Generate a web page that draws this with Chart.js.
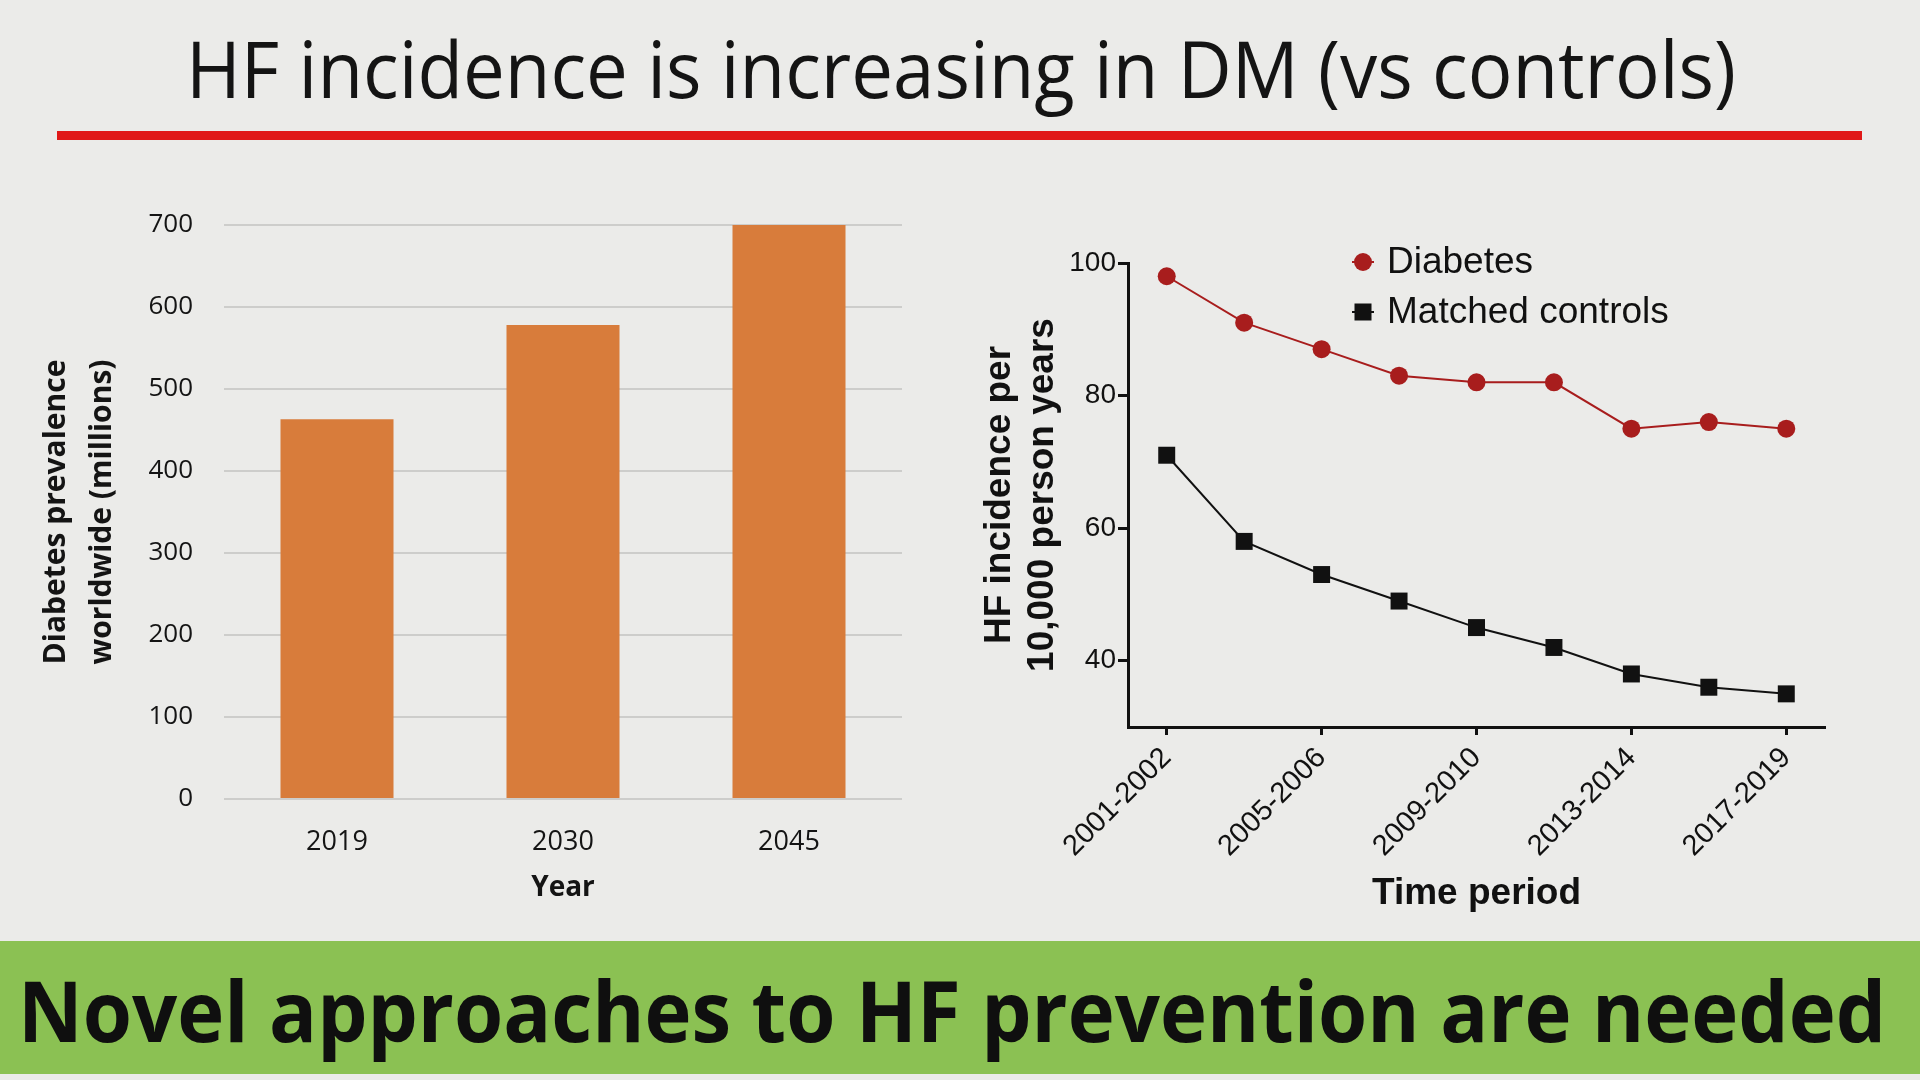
<!DOCTYPE html>
<html>
<head>
<meta charset="utf-8">
<script src="https://cdn.jsdelivr.net/npm/chart.js@4/dist/chart.umd.min.js"></script>
<style>
  html, body { margin: 0; padding: 0; }
  body { width: 1920px; height: 1080px; background: #ebebe9; position: relative; overflow: hidden; }
  .fit { position: absolute; white-space: nowrap; display: inline-block; transform-origin: 0 0; }
  #title { left: 186px; top: 29px; font: 400 78px/78px "Open Sans", sans-serif; color: #141414; }
  #rule { position: absolute; left: 57px; top: 131px; width: 1805px; height: 9px; background: #e01818; }
  #band { position: absolute; left: 0; top: 941px; width: 1920px; height: 133px; background: #8bc153; }
  #footer { left: 18px; top: 968px; font: 700 84px/84px "Open Sans", sans-serif; color: #0f0f0f; }
  .box { position: absolute; }
  #barBox { left: 0; top: 160px; width: 940px; height: 760px; }
  #lineBox { left: 960px; top: 160px; width: 940px; height: 770px; }
</style>
</head>
<body>
<div id="title" class="fit" data-w="1550">HF incidence is increasing in DM (vs controls)</div>
<div id="rule"></div>
<div id="band"></div>
<div id="footer" class="fit" data-w="1868">Novel approaches to HF prevention are needed</div>
<div class="box" id="barBox"><canvas id="bars"></canvas></div>
<div class="box" id="lineBox"><canvas id="lines"></canvas></div>

<script>
// left panel: diabetes prevalence (millions)
const barYears = ['2019', '2030', '2045'];
const prevalence = [463, 578, 700];
const barTicks = [0, 100, 200, 300, 400, 500, 600, 700];

// right panel: HF incidence per 10,000 person years
const periods = ['2001-2002', '2003-2004', '2005-2006', '2007-2008', '2009-2010',
                 '2011-2012', '2013-2014', '2015-2016', '2017-2019'];
const diabetes = [98, 91, 87, 83, 82, 82, 75, 76, 75];
const controls = [71, 58, 53, 49, 45, 42, 38, 36, 35];
const hfTicks = [40, 60, 80, 100];

// squeeze the slide texts to the width they take in the original
document.querySelectorAll('.fit').forEach(el => {
  const w = el.getBoundingClientRect().width;
  el.style.transform = 'scaleX(' + (Number(el.dataset.w) / w) + ')';
});

Chart.defaults.animation = false;
Chart.defaults.devicePixelRatio = 1;

const ink = '#141414';

new Chart(document.getElementById('bars'), {
  type: 'bar',
  data: {
    labels: barYears,
    datasets: [{
      data: prevalence,
      backgroundColor: '#d87c3b',
      categoryPercentage: 1,
      barPercentage: 0.5
    }]
  },
  options: {
    responsive: true,
    maintainAspectRatio: false,
    layout: { padding: { left: 30, top: 65, right: 38, bottom: 15 } },
    plugins: { legend: { display: false }, tooltip: { enabled: false } },
    scales: {
      x: {
        grid: { display: false },
        border: { display: false },
        ticks: { color: ink, padding: 19, font: { family: 'Open Sans', size: 27 } },
        title: {
          display: true, text: 'Year', color: ink,
          padding: { top: 4, bottom: 0 },
          font: { family: 'Open Sans', size: 28, weight: 'bold' }
        },
        afterFit: s => { s.height = 106; }
      },
      y: {
        min: 0, max: 700,
        afterBuildTicks: s => { s.ticks = barTicks.map(v => ({ value: v })); },
        grid: { color: '#cdcdcb', lineWidth: 2, drawTicks: false },
        border: { display: false },
        ticks: { color: ink, padding: 31, font: { family: 'Open Sans', size: 26 } },
        title: {
          display: true, text: ['Diabetes prevalence', 'worldwide (millions)'], color: ink,
          padding: { top: 4, bottom: 0 },
          font: { family: 'Open Sans', size: 30, weight: 'bold', lineHeight: 1.53 }
        },
        afterFit: s => { s.width = 194; }
      }
    }
  }
});

// legend drawn inside the plot, stacked as in the figure
const stackedLegend = {
  id: 'stackedLegend',
  afterDraw(chart) {
    const { ctx, chartArea } = chart;
    const x0 = chartArea.left + 235;
    chart.data.datasets.forEach((ds, i) => {
      const y = chartArea.top - 1 + i * 50;
      ctx.save();
      ctx.strokeStyle = ds.borderColor;
      ctx.lineWidth = 2;
      ctx.beginPath();
      ctx.moveTo(x0 - 11, y);
      ctx.lineTo(x0 + 11, y);
      ctx.stroke();
      ctx.fillStyle = ds.pointBackgroundColor;
      if (ds.pointStyle === 'rect') {
        ctx.fillRect(x0 - 8.5, y - 8.5, 17, 17);
      } else {
        ctx.beginPath();
        ctx.arc(x0, y, ds.pointRadius, 0, Math.PI * 2);
        ctx.fill();
      }
      ctx.fillStyle = '#111';
      ctx.font = '37px "Liberation Sans"';
      ctx.textBaseline = 'middle';
      ctx.fillText(ds.label, x0 + 24, y + 1);
      ctx.restore();
    });
  }
};

new Chart(document.getElementById('lines'), {
  type: 'line',
  data: {
    labels: periods,
    datasets: [{
      label: 'Diabetes',
      data: diabetes,
      borderColor: '#a81d1d',
      backgroundColor: '#a81d1d',
      pointBackgroundColor: '#a81d1d',
      pointBorderWidth: 0,
      borderWidth: 2,
      pointStyle: 'circle',
      pointRadius: 9,
      tension: 0
    }, {
      label: 'Matched controls',
      data: controls,
      borderColor: '#111111',
      backgroundColor: '#111111',
      pointBackgroundColor: '#111111',
      pointBorderWidth: 0,
      borderWidth: 2,
      pointStyle: 'rect',
      pointRadius: 12,
      tension: 0
    }]
  },
  options: {
    responsive: true,
    maintainAspectRatio: false,
    layout: { padding: { left: 14, top: 103, right: 75, bottom: 14 } },
    plugins: { legend: { display: false }, tooltip: { enabled: false } },
    scales: {
      x: {
        offset: true,
        grid: { drawOnChartArea: false, drawTicks: true, tickLength: 8, tickWidth: 3, tickColor: '#111', offset: false },
        border: { color: '#111', width: 3 },
        ticks: {
          autoSkip: false, minRotation: 45, maxRotation: 45, padding: 6, color: '#111',
          font: { family: 'Liberation Sans', size: 29 },
          callback: (v, i) => (i % 2 === 0 ? periods[i] : null)
        },
        title: {
          display: true, text: 'Time period', color: '#111',
          padding: { top: 4, bottom: 0 },
          font: { family: 'Liberation Sans', size: 37, weight: 'bold' }
        },
        afterFit: s => { s.height = 189; }
      },
      y: {
        min: 30, max: 100,
        afterBuildTicks: s => { s.ticks = hfTicks.map(v => ({ value: v })); },
        grid: { drawOnChartArea: false, drawTicks: true, tickLength: 10, tickWidth: 3, tickColor: '#111' },
        border: { color: '#111', width: 3 },
        ticks: { padding: 2, color: '#111', font: { family: 'Liberation Sans', size: 28 } },
        title: {
          display: true, text: ['HF incidence per', '10,000 person years'], color: '#111',
          padding: { top: 4, bottom: 0 },
          font: { family: 'Liberation Sans', size: 37, weight: 'bold', lineHeight: 1.16 }
        },
        afterFit: s => { s.width = 154; }
      }
    }
  },
  plugins: [stackedLegend]
});
</script>
</body>
</html>
